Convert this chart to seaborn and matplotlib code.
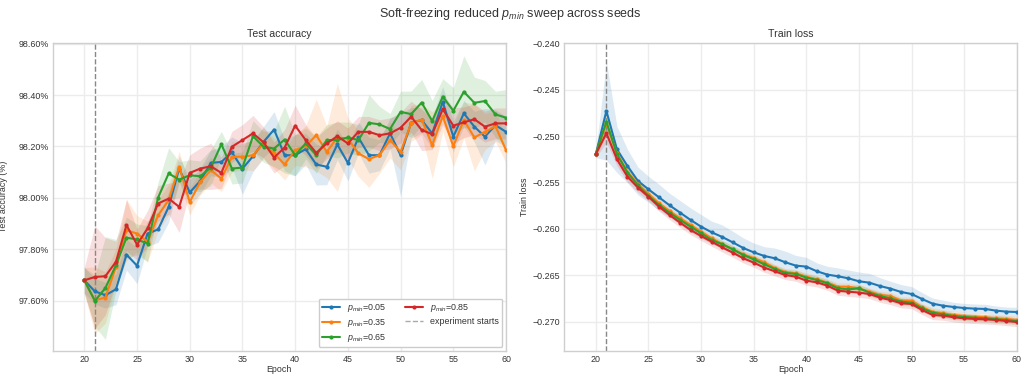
import numpy as np
import pandas as pd
import matplotlib
matplotlib.use("Agg")
import matplotlib.pyplot as plt
from matplotlib.ticker import FuncFormatter, MultipleLocator
import seaborn as sns

# ---- data -------------------------------------------------------------
epochs = list(range(20, 61))
p_min_labels = [r"$p_{min}$=0.05", r"$p_{min}$=0.35", r"$p_{min}$=0.65", r"$p_{min}$=0.85"]
experiment_start = 21

# test accuracy (%), mean over seeds
acc_p005 = [97.679, 97.636, 97.621, 97.644, 97.779, 97.736, 97.861, 97.877, 97.965, 98.114,
            98.021, 98.066, 98.136, 98.140, 98.177, 98.114, 98.162, 98.218, 98.266, 98.166,
            98.166, 98.190, 98.130, 98.121, 98.208, 98.136, 98.235, 98.166, 98.166, 98.251,
            98.166, 98.292, 98.303, 98.251, 98.374, 98.238, 98.329, 98.277, 98.238, 98.283,
            98.257]
acc_p035 = [97.679, 97.601, 97.612, 97.731, 97.874, 97.861, 97.829, 97.932, 97.991, 98.121,
            97.984, 98.062, 98.108, 98.075, 98.160, 98.160, 98.166, 98.212, 98.173, 98.130,
            98.186, 98.201, 98.244, 98.179, 98.235, 98.231, 98.173, 98.151, 98.166, 98.225,
            98.179, 98.290, 98.305, 98.205, 98.318, 98.201, 98.303, 98.235, 98.257, 98.279,
            98.186]
acc_p065 = [97.679, 97.599, 97.649, 97.738, 97.845, 97.838, 97.822, 98.001, 98.095, 98.071,
            98.088, 98.084, 98.118, 98.209, 98.114, 98.118, 98.240, 98.199, 98.192, 98.227,
            98.166, 98.212, 98.166, 98.225, 98.225, 98.235, 98.225, 98.292, 98.286, 98.268,
            98.335, 98.326, 98.371, 98.299, 98.394, 98.339, 98.413, 98.370, 98.377, 98.325,
            98.312]
acc_p085 = [97.679, 97.692, 97.695, 97.751, 97.894, 97.818, 97.881, 97.978, 97.997, 97.965,
            98.097, 98.114, 98.123, 98.097, 98.199, 98.225, 98.251, 98.216, 98.157, 98.196,
            98.281, 98.225, 98.175, 98.212, 98.240, 98.212, 98.257, 98.257, 98.244, 98.251,
            98.273, 98.316, 98.264, 98.248, 98.345, 98.281, 98.294, 98.306, 98.277, 98.290,
            98.290]

# test accuracy spread across seeds (std)
acc_sd_p005 = [0.05, 0.05, 0.05, 0.06, 0.06, 0.07, 0.05, 0.05, 0.06, 0.05,
               0.05, 0.05, 0.05, 0.06, 0.06, 0.10, 0.06, 0.06, 0.07, 0.06,
               0.08, 0.06, 0.08, 0.07, 0.06, 0.07, 0.06, 0.07, 0.06, 0.06,
               0.16, 0.06, 0.05, 0.06, 0.06, 0.06, 0.05, 0.06, 0.11, 0.06,
               0.06]
acc_sd_p035 = [0.05, 0.13, 0.10, 0.07, 0.12, 0.07, 0.08, 0.06, 0.06, 0.06,
               0.05, 0.05, 0.05, 0.05, 0.06, 0.05, 0.06, 0.06, 0.06, 0.06,
               0.06, 0.08, 0.14, 0.10, 0.21, 0.08, 0.09, 0.11, 0.07, 0.07,
               0.07, 0.07, 0.06, 0.13, 0.06, 0.08, 0.07, 0.13, 0.07, 0.06,
               0.05]
acc_sd_p065 = [0.05, 0.10, 0.20, 0.10, 0.08, 0.06, 0.07, 0.06, 0.10, 0.07,
               0.06, 0.06, 0.07, 0.05, 0.06, 0.06, 0.06, 0.06, 0.07, 0.13,
               0.08, 0.06, 0.07, 0.06, 0.07, 0.06, 0.06, 0.11, 0.07, 0.06,
               0.08, 0.09, 0.09, 0.08, 0.07, 0.09, 0.14, 0.10, 0.08, 0.09,
               0.11]
acc_sd_p085 = [0.05, 0.20, 0.15, 0.08, 0.10, 0.06, 0.07, 0.07, 0.06, 0.10,
               0.07, 0.08, 0.09, 0.06, 0.06, 0.06, 0.07, 0.06, 0.06, 0.07,
               0.08, 0.06, 0.06, 0.06, 0.06, 0.06, 0.06, 0.06, 0.06, 0.06,
               0.06, 0.06, 0.08, 0.06, 0.06, 0.07, 0.06, 0.06, 0.06, 0.06,
               0.06]

# train loss, mean over seeds
loss_p005 = [-0.25193, -0.24729, -0.25143, -0.25322, -0.25484, -0.25574, -0.25660, -0.25746,
             -0.25825, -0.25904, -0.25976, -0.26037, -0.26087, -0.26145, -0.26206, -0.26253,
             -0.26292, -0.26317, -0.26360, -0.26396, -0.26407, -0.26457, -0.26493, -0.26511,
             -0.26533, -0.26565, -0.26580, -0.26616, -0.26644, -0.26680, -0.26702, -0.26756,
             -0.26806, -0.26828, -0.26842, -0.26853, -0.26860, -0.26863, -0.26881, -0.26892,
             -0.26896]
loss_p035 = [-0.25193, -0.24862, -0.25186, -0.25383, -0.25516, -0.25624, -0.25725, -0.25807,
             -0.25886, -0.25958, -0.26030, -0.26102, -0.26163, -0.26217, -0.26274, -0.26314,
             -0.26360, -0.26422, -0.26465, -0.26479, -0.26515, -0.26544, -0.26580, -0.26623,
             -0.26623, -0.26641, -0.26677, -0.26713, -0.26723, -0.26774, -0.26774, -0.26845,
             -0.26892, -0.26910, -0.26928, -0.26939, -0.26946, -0.26953, -0.26964, -0.26971,
             -0.26982]
loss_p065 = [-0.25193, -0.24844, -0.25193, -0.25394, -0.25531, -0.25645, -0.25742, -0.25825,
             -0.25904, -0.25976, -0.26048, -0.26120, -0.26166, -0.26220, -0.26281, -0.26328,
             -0.26382, -0.26432, -0.26475, -0.26486, -0.26526, -0.26551, -0.26587, -0.26641,
             -0.26652, -0.26641, -0.26687, -0.26723, -0.26749, -0.26784, -0.26795, -0.26856,
             -0.26903, -0.26921, -0.26939, -0.26950, -0.26957, -0.26964, -0.26975, -0.26982,
             -0.26996]
loss_p085 = [-0.25193, -0.24970, -0.25250, -0.25437, -0.25556, -0.25653, -0.25760, -0.25850,
             -0.25933, -0.26012, -0.26077, -0.26138, -0.26199, -0.26256, -0.26317, -0.26364,
             -0.26418, -0.26457, -0.26497, -0.26515, -0.26558, -0.26576, -0.26612, -0.26666,
             -0.26677, -0.26687, -0.26702, -0.26741, -0.26767, -0.26802, -0.26810, -0.26874,
             -0.26928, -0.26935, -0.26953, -0.26964, -0.26971, -0.26975, -0.26982, -0.26993,
             -0.27004]

# train loss spread across seeds (std)
loss_sd_p005 = [0.0004, 0.0053, 0.0025, 0.0018, 0.0015, 0.0014, 0.0014, 0.0013, 0.0013, 0.0013,
                0.0013, 0.0012, 0.0013, 0.0012, 0.0011, 0.0010, 0.0010, 0.0011, 0.0012, 0.0011,
                0.0010, 0.0009, 0.0009, 0.0009, 0.0009, 0.0010, 0.0010, 0.0009, 0.0008, 0.0008,
                0.0008, 0.0007, 0.0006, 0.0006, 0.0005, 0.0005, 0.0005, 0.0005, 0.0005, 0.0005,
                0.0005]
loss_sd_p035 = [0.0004, 0.0013, 0.0008, 0.0006, 0.0005, 0.0005, 0.0005, 0.0004, 0.0004, 0.0004,
                0.0004, 0.0004, 0.0004, 0.0004, 0.0004, 0.0004, 0.0004, 0.0004, 0.0004, 0.0004,
                0.0004, 0.0004, 0.0004, 0.0004, 0.0004, 0.0004, 0.0004, 0.0004, 0.0004, 0.0004,
                0.0004, 0.0004, 0.0004, 0.0004, 0.0004, 0.0004, 0.0004, 0.0004, 0.0004, 0.0004,
                0.0004]
loss_sd_p065 = [0.0004, 0.0010, 0.0006, 0.0005, 0.0004, 0.0004, 0.0004, 0.0004, 0.0004, 0.0004,
                0.0004, 0.0004, 0.0004, 0.0004, 0.0004, 0.0004, 0.0004, 0.0004, 0.0004, 0.0004,
                0.0004, 0.0004, 0.0004, 0.0004, 0.0004, 0.0004, 0.0004, 0.0004, 0.0004, 0.0004,
                0.0004, 0.0004, 0.0004, 0.0004, 0.0004, 0.0004, 0.0004, 0.0004, 0.0004, 0.0004,
                0.0004]
loss_sd_p085 = [0.0004, 0.0010, 0.0007, 0.0006, 0.0005, 0.0005, 0.0005, 0.0005, 0.0005, 0.0005,
                0.0005, 0.0005, 0.0005, 0.0005, 0.0005, 0.0005, 0.0005, 0.0005, 0.0005, 0.0005,
                0.0005, 0.0005, 0.0005, 0.0005, 0.0005, 0.0005, 0.0005, 0.0005, 0.0005, 0.0005,
                0.0005, 0.0005, 0.0005, 0.0005, 0.0005, 0.0005, 0.0005, 0.0005, 0.0005, 0.0005,
                0.0005]

acc_means = [acc_p005, acc_p035, acc_p065, acc_p085]
acc_sds = [acc_sd_p005, acc_sd_p035, acc_sd_p065, acc_sd_p085]
loss_means = [loss_p005, loss_p035, loss_p065, loss_p085]
loss_sds = [loss_sd_p005, loss_sd_p035, loss_sd_p065, loss_sd_p085]

# ---- style -------------------------------------------------------------
sns.set_theme(style="whitegrid")
plt.rcParams.update({
    "font.family": ["Liberation Sans", "DejaVu Sans"],
    "mathtext.fontset": "custom",
    "mathtext.rm": "Liberation Sans",
    "mathtext.it": "Liberation Sans:italic",
    "mathtext.bf": "Liberation Sans:bold",
    "axes.edgecolor": "#cfcfcf",
    "grid.color": "#ececec",
    "axes.linewidth": 1.0,
    "xtick.labelsize": 6.4,
    "ytick.labelsize": 6.4,
    "axes.labelsize": 6.4,
    "axes.titlesize": 7.6,
    "text.color": "#333333",
    "axes.labelcolor": "#333333",
    "xtick.color": "#333333",
    "ytick.color": "#333333",
})
palette = sns.color_palette("tab10", 4)


def long_frame(means):
    rows = []
    for label, vals in zip(p_min_labels, means):
        for e, v in zip(epochs, vals):
            rows.append({"Epoch": e, "value": v, "p_min": label})
    return pd.DataFrame(rows)


fig = plt.figure(figsize=(10.21, 3.76), dpi=100)
ax_acc = fig.add_axes([0.0516, 0.0673, 0.4440, 0.8191])
ax_loss = fig.add_axes([0.5527, 0.0673, 0.4431, 0.8191])


def draw_panel(ax, means, sds):
    df = long_frame(means)
    sns.lineplot(data=df, x="Epoch", y="value", hue="p_min", hue_order=p_min_labels,
                 palette=palette, marker="o", markersize=3.0, markeredgewidth=0,
                 linewidth=1.5, errorbar=None, ax=ax, legend=False, zorder=3)
    for color, m, s in zip(palette, means, sds):
        m = np.asarray(m)
        s = np.asarray(s)
        ax.fill_between(epochs, m - s, m + s, color=color, alpha=0.15, linewidth=0, zorder=2)
    ax.axvline(experiment_start, color="#888888", linestyle="--", linewidth=1.0, zorder=2.5)
    ax.set_xlim(17, 60)
    ax.xaxis.set_major_locator(MultipleLocator(5))
    ax.set_xlabel("Epoch")
    ax.xaxis.set_label_coords(0.5, -0.045)
    ax.tick_params(axis="both", length=0, pad=3)
    for sp in ax.spines.values():
        sp.set_color("#cfcfcf")


draw_panel(ax_acc, acc_means, acc_sds)
ax_acc.set_ylim(97.405, 98.604)
ax_acc.yaxis.set_major_locator(MultipleLocator(0.2))
ax_acc.yaxis.set_major_formatter(FuncFormatter(lambda v, _: f"{v:.2f}%"))
ax_acc.set_ylabel("Test accuracy (%)")
ax_acc.yaxis.set_label_coords(-0.098, 0.5)
ax_acc.set_title("Test accuracy", pad=4)

draw_panel(ax_loss, loss_means, loss_sds)
ax_loss.set_ylim(-0.27313, -0.23994)
ax_loss.yaxis.set_major_locator(MultipleLocator(0.005))
ax_loss.yaxis.set_major_formatter(FuncFormatter(lambda v, _: f"{v:.3f}".replace("-", "\u2212")))
ax_loss.set_ylabel("Train loss")
ax_loss.yaxis.set_label_coords(-0.078, 0.5)
ax_loss.set_title("Train loss", pad=4)

# legend on the accuracy panel
handles = [plt.Line2D([], [], color=c, marker="o", markersize=3.0, markeredgewidth=0, linewidth=1.5)
           for c in palette]
handles.append(plt.Line2D([], [], color="#aaaaaa", linestyle="--", linewidth=1.0))
labels = p_min_labels + ["experiment starts"]
ax_acc.legend(handles, labels, loc="lower right", ncol=2, fontsize=6.4, frameon=True,
              facecolor="white", edgecolor="#cccccc", framealpha=1.0,
              handlelength=2.1, handletextpad=0.8, columnspacing=2.0, borderpad=0.35,
              labelspacing=0.35, borderaxespad=0.4)

fig.suptitle(r"Soft-freezing reduced $p_{min}$ sweep across seeds", fontsize=9, y=0.985,
             color="#333333")

fig.savefig("out.png", dpi=100)
